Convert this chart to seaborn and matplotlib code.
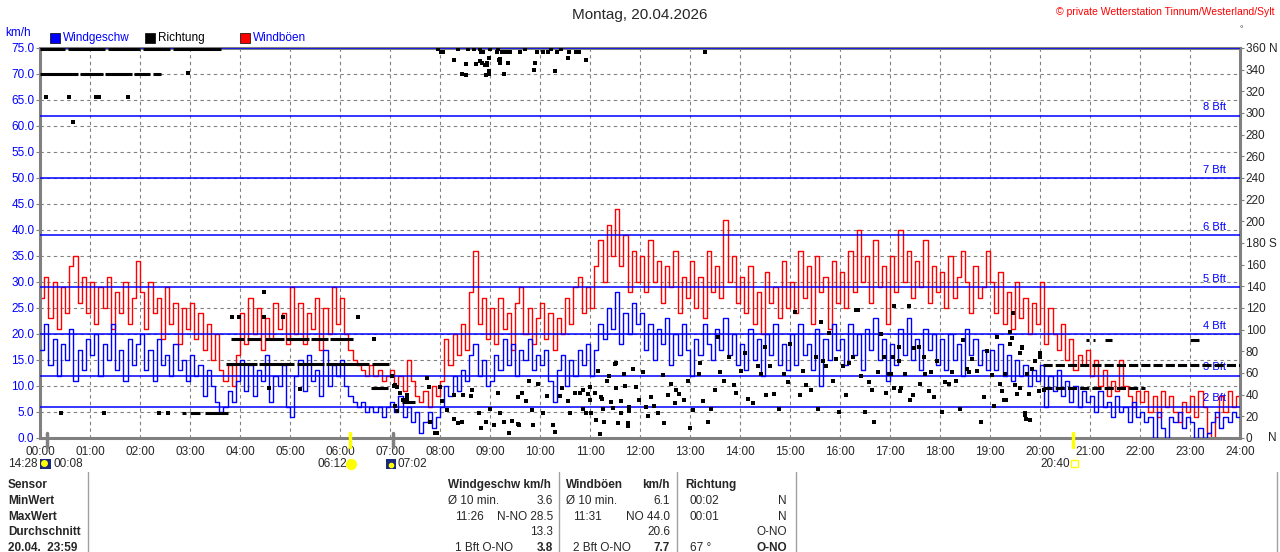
import matplotlib
matplotlib.use("Agg")
import matplotlib.pyplot as plt
from matplotlib.patches import Rectangle
import numpy as np
import pandas as pd
import seaborn as sns

# wind gusts (km/h), 5-minute samples, one row per hour
GUST = [
    27, 31, 23, 30, 21, 29, 24, 33, 35, 26, 31, 24,
    30, 22, 29, 25, 31, 21, 28, 24, 30, 22, 27, 34,
    28, 21, 30, 24, 27, 19, 29, 22, 26, 18, 25, 21,
    26, 19, 24, 17, 22, 15, 20, 13, 11, 14, 10, 16,
    24, 18, 27, 20, 25, 17, 23, 19, 26, 21, 24, 18,
    29, 20, 26, 18, 24, 21, 27, 17, 25, 20, 29, 22,
    27, 20, 17, 15, 14, 13, 12, 14, 12, 13, 11, 12,
    13, 10, 12, 9, 15, 11, 8, 7, 9, 6, 10, 8,
    11, 19, 14, 20, 16, 22, 17, 28, 36, 22, 27, 19,
    25, 18, 27, 21, 24, 17, 26, 29, 20, 25, 18, 23,
    26, 19, 24, 17, 23, 20, 27, 22, 29, 31, 24, 29,
    25, 33, 38, 30, 41, 35, 44, 33, 39, 28, 36, 30,
    35, 28, 38, 30, 34, 26, 33, 29, 36, 24, 31, 27,
    34, 25, 31, 23, 36, 28, 33, 27, 42, 30, 35, 26,
    31, 24, 33, 22, 28, 20, 32, 26, 29, 23, 34, 25,
    30, 24, 36, 27, 33, 22, 35, 28, 31, 21, 34, 26,
    32, 25, 36, 28, 40, 30, 35, 26, 38, 29, 33, 22,
    35, 28, 40, 30, 36, 27, 34, 29, 38, 26, 33, 28,
    32, 25, 35, 27, 31, 36, 30, 24, 33, 27, 29, 36,
    30, 24, 32, 22, 28, 21, 30, 23, 27, 20, 26, 22,
    30, 18, 25, 20, 17, 22, 15, 19, 13, 16, 14, 17,
    12, 15, 10, 13, 8, 11, 9, 15, 10, 8, 6, 9,
    7, 9, 5, 8, 4, 9, 6, 8, 5, 3, 7, 5,
    8, 4, 9, 6, 1, 0, 4, 8, 5, 9, 6, 8,
    6,
]

# mean wind speed (km/h), same sampling
SPEED = [
    17, 22, 14, 19, 12, 18, 15, 21, 11, 17, 13, 19,
    16, 20, 12, 18, 15, 22, 13, 17, 11, 19, 14, 18,
    20, 13, 17, 11, 19, 14, 16, 12, 18, 13, 15, 11,
    16, 12, 14, 8, 13, 10, 7, 5, 6, 9, 7, 11,
    15, 9, 14, 8, 13, 11, 16, 7, 12, 10, 14, 6,
    4, 12, 15, 9, 16, 11, 13, 8, 17, 10, 14, 12,
    15, 10, 8, 7, 6, 7, 5, 6, 5, 6, 4, 6,
    7, 5, 8, 4, 6, 3, 5, 1, 3, 5, 2, 4,
    6, 10, 8, 12, 9, 13, 11, 16, 18, 12, 15, 10,
    11, 16, 13, 19, 14, 18, 12, 17, 15, 19, 13, 16,
    14, 17, 11, 7, 13, 16, 10, 15, 12, 17, 14, 18,
    12, 17, 22, 19, 25, 21, 28, 18, 24, 20, 26, 22,
    24, 17, 22, 15, 21, 18, 23, 14, 20, 16, 22, 17,
    12, 19, 16, 22, 18, 15, 21, 17, 23, 16, 20, 14,
    18, 13, 21, 15, 19, 12, 20, 16, 22, 14, 18, 13,
    20, 14, 22, 16, 18, 13, 21, 10, 19, 15, 22, 17,
    19, 14, 22, 16, 20, 13, 21, 17, 23, 15, 19, 11,
    18, 14, 21, 16, 23, 15, 19, 13, 21, 17, 20, 14,
    19, 13, 20, 15, 18, 12, 21, 16, 19, 14, 17, 13,
    17, 13, 18, 12, 16, 11, 15, 12, 14, 10, 13, 11,
    14, 6, 12, 9, 13, 8, 11, 7, 10, 6, 9, 7,
    8, 5, 9, 6, 7, 4, 8, 5, 6, 3, 7, 4,
    5, 3, 4, 0, 5, 2, 0, 4, 3, 5, 2, 4,
    3, 0, 2, 0, 1, 3, 5, 2, 4, 3, 5, 4,
    4,
]

# single direction readings (hour of day, degrees)
DIR_HOURS = [
    0.12, 0.58, 1.12, 1.18, 1.75, 0.65, 2.95, 0.42, 1.27, 2.38, 2.55,
    3.83, 3.98, 4.47, 4.85, 4.48, 4.58, 5.2, 6.35, 6.68,
    7.04, 7.07, 7.10, 7.14, 7.20, 7.34, 7.34, 7.26, 7.10, 7.14, 7.74, 7.77, 7.79, 7.90, 7.93,
    8.04, 8.00, 8.13, 8.28, 8.28, 8.36, 8.43, 8.46, 8.63, 8.61, 8.79, 8.82, 8.92,
    9.00, 9.08, 9.16, 9.19, 9.28, 9.38, 9.44, 9.55, 9.57, 9.55, 9.64, 9.72, 9.77, 9.83, 9.86, 9.96,
    10.06, 10.14, 10.26, 10.29, 10.39, 10.44, 10.56, 10.59, 10.69, 10.79, 10.85, 10.86, 10.92, 10.95, 10.99,
    11.00, 11.02, 11.10, 11.11, 11.16, 11.20, 11.22, 11.24, 11.26, 11.27, 11.33, 11.37, 11.42, 11.45,
    11.49, 11.52, 11.52, 11.55, 11.55, 11.62, 11.62, 11.68, 11.70, 11.75, 11.75, 11.78, 11.78, 11.85, 11.92, 11.98,
    12.05, 12.12, 12.15, 12.22, 12.28, 12.35, 12.45, 12.48, 12.55, 12.62, 12.70, 12.72, 12.78, 12.88, 12.95,
    13.00, 13.05, 13.17, 13.20, 13.26, 13.36, 13.42, 13.50, 13.55, 13.60, 13.68, 13.78, 13.88, 13.92,
    14.01, 14.10, 14.15, 14.26, 14.36, 14.42, 14.50, 14.52, 14.60, 14.68, 14.78, 14.88, 14.95,
    15.00, 15.10, 15.20, 15.26, 15.32, 15.42, 15.52, 15.55, 15.62, 15.65, 15.72, 15.78, 15.85, 15.92, 15.98,
    16.05, 16.12, 16.18, 16.25, 16.32, 16.35, 16.42, 16.50, 16.58, 16.65, 16.68, 16.75, 16.82, 16.88, 16.92,
    16.99, 17.02, 17.05, 17.08, 17.08, 17.17, 17.17, 17.20, 17.22, 17.30, 17.37, 17.40, 17.45, 17.47,
    17.57, 17.60, 17.67, 17.70, 17.77, 17.83, 17.87, 17.93, 18.03, 18.10, 18.17, 18.23, 18.33, 18.40,
    18.46, 18.53, 18.57, 18.63, 18.73, 18.83, 18.87, 18.93, 19.03, 19.07, 19.13, 19.20, 19.23, 19.28,
    19.30, 19.33, 19.39, 19.40, 19.43, 19.45, 19.50, 19.53, 19.59, 19.60, 19.63, 19.65, 19.69, 19.70,
    19.72, 19.73, 19.78, 19.80, 19.83, 19.90, 19.97, 19.99, 20.00, 20.08,
    # near north
    8.02, 8.05, 8.28, 8.52, 8.43, 8.53, 8.72, 8.80, 8.82, 8.87, 8.83, 8.90, 8.93, 8.97, 8.95, 8.98,
    8.92, 8.97, 9.13, 9.23, 9.32, 9.40, 9.60, 9.18, 9.20, 9.20, 9.37, 9.28, 9.93, 10.06, 10.16,
    10.34, 10.58, 10.72, 10.78, 9.90, 9.88, 10.30, 10.55, 10.92, 13.30,
    7.95, 8.35, 8.55, 8.68, 8.80, 9.00, 9.15, 9.70, 10.22, 10.42,
]
DIR_DEG = [
    315, 315, 315, 315, 315, 292, 337, 23, 23, 23, 23,
    112, 112, 112, 112, 135, 46, 45, 112, 91,
    57, 48, 49, 47, 42, 40, 36, 35, 30, 25, 55, 47, 15, 5, 5,
    34, 47, 26, 40, 18, 14, 15, 40, 44, 39, 23, 9, 15,
    27, 12, 42, 23, 15, 5, 16, 13, 12, 38, 42, 34, 53, 26, 12, 50,
    23, 39, 12, 6, 39, 46, 34, 23, 42, 42, 44, 27, 23, 41, 47,
    35, 23, 42, 17, 62, 4, 38, 36, 27, 15, 53, 57, 33, 28,
    68, 69, 46, 14, 14, 34, 23, 59, 48, 11, 14, 29, 25, 64, 47, 35,
    61, 29, 20, 38, 30, 23, 58, 14, 40, 50, 32, 44, 41, 35, 53,
    9, 26, 59, 69, 34, 15, 27, 44, 93, 61, 53, 75, 49, 42,
    62, 78, 36, 32, 66, 59, 84, 40, 66, 41, 27, 59, 52,
    87, 116, 40, 62, 49, 44, 75, 27, 107, 71, 66, 97, 53, 73, 24,
    66, 40, 69, 75, 118, 118, 57, 24, 52, 44, 15, 61, 96, 75, 42,
    59, 59, 75, 46, 122, 71, 84, 43, 46, 59, 122, 35, 40, 83,
    84, 50, 75, 59, 43, 61, 38, 71, 24, 52, 50, 61, 53, 27,
    90, 64, 61, 73, 62, 15, 38, 80, 58, 30, 93, 50, 43, 35,
    59, 35, 98, 87, 92, 115, 49, 41, 46, 78, 84, 83, 21, 23,
    18, 59, 41, 17, 64, 71, 43, 78, 75, 44,
    356, 356, 349, 345, 336, 335, 345, 348, 356, 356, 346, 344, 344, 351, 346, 339,
    335, 336, 356, 356, 356, 356, 356, 349, 350, 346, 346, 336, 356, 356, 356,
    356, 356, 356, 356, 346, 340, 339, 351, 349, 356,
    359, 359, 359, 359, 359, 359, 359, 359, 359, 359,
]

# runs of identical direction readings: start hour, end hour, degrees
RUN_START = [0.00, 0.80, 1.30, 1.87, 2.25,
             0.00, 0.55, 1.35, 2.05, 2.65,
             2.83, 3.00, 3.30,
             3.82, 4.13, 4.50, 4.92, 5.42, 5.80,
             3.72, 4.38, 5.13, 5.72, 6.63,
             6.62, 7.23,
             20.92, 21.05, 21.30, 23.00]
RUN_END = [0.75, 1.25, 1.83, 2.20, 2.42,
           0.50, 1.30, 2.00, 2.60, 3.62,
           2.92, 3.20, 3.75,
           4.08, 4.42, 4.87, 5.37, 5.75, 6.25,
           4.33, 5.08, 5.67, 6.58, 6.97,
           6.95, 7.50,
           20.98, 21.10, 21.43, 23.18]
RUN_DEG = [336, 336, 336, 336, 336,
           359, 359, 359, 359, 359,
           23, 23, 23,
           91, 91, 91, 91, 91, 91,
           68, 68, 68, 68, 68,
           46, 33,
           90, 90, 90, 90]
# dashed runs in the evening
DASH_START = [20.05, 20.05]
DASH_END = [24.0, 22.1]
DASH_DEG = [67, 46]

BFT_KMH = [6, 12, 20, 29, 39, 50, 62, 75]
BFT_LABELS = ["2 Bft", "3 Bft", "4 Bft", "5 Bft", "6 Bft", "7 Bft", "8 Bft", ""]

hours = np.arange(len(GUST)) * 5 / 60
df = pd.DataFrame({"hour": hours, "gust": GUST, "speed": SPEED})

sns.set_style("white")
plt.rcParams["font.family"] = ["Liberation Sans", "DejaVu Sans"]

W, H = 1280, 552
fig = plt.figure(figsize=(W / 100, H / 100), dpi=100)
ax = fig.add_axes([40 / W, 1 - 438 / H, 1200 / W, 390 / H])
ax.set_xlim(0, 24)
ax.set_ylim(0, 75)

ax.set_xticks(range(25))
ax.set_xticklabels([f"{h:02d}:00" for h in range(25)], fontsize=8.5)
ax.set_yticks(np.arange(0, 75.1, 5))
ax.set_yticklabels([f"{v:.1f}" for v in np.arange(0, 75.1, 5)], fontsize=8.5, color="#0000ff")
ax.tick_params(axis="x", length=0, pad=6)
ax.tick_params(axis="y", length=3, color="#808080", pad=1)
ax.grid(True, color="#808080", linestyle=(0, (3, 3)), linewidth=0.8)
ax.set_axisbelow(True)
for sp in ax.spines.values():
    sp.set_color("#808080")
    sp.set_linewidth(2.2)

sns.lineplot(data=df, x="hour", y="gust", ax=ax, color="#ff0000", linewidth=1,
             drawstyle="steps-post", estimator=None, zorder=2)
for v in BFT_KMH:
    ax.axhline(v, color="#0000ff", linewidth=1.1, zorder=3)
sns.lineplot(data=df, x="hour", y="speed", ax=ax, color="#0000ff", linewidth=1,
             drawstyle="steps-post", estimator=None, zorder=4)
for v, lab in zip(BFT_KMH, BFT_LABELS):
    if lab:
        ax.text(23.72, v + 1.6, lab, color="#0000ff", fontsize=8, ha="right", va="center", zorder=5)
ax.set_xlabel("")
ax.set_ylabel("")

ax2 = ax.twinx()
ax2.set_ylim(0, 360)
ax2.set_yticks(range(0, 361, 20))
rlabels = [str(d) for d in range(0, 361, 20)]
rlabels[9] = "180 S"
rlabels[18] = "360 N"
ax2.set_yticklabels(rlabels, fontsize=8.5)
ax2.tick_params(axis="y", length=3, color="#808080", pad=1)
ax2.grid(False)
for sp in ax2.spines.values():
    sp.set_visible(False)
sns.scatterplot(x=DIR_HOURS, y=DIR_DEG, ax=ax2, color="black", marker="s", s=5,
                linewidth=0, zorder=6)
ax2.hlines(RUN_DEG, RUN_START, RUN_END, color="black", linewidth=2.2, zorder=6)
ax2.hlines(DASH_DEG, DASH_START, DASH_END, color="black", linewidth=2.2,
           linestyles=(0, (3, 1)), zorder=6)
fig.text(1268 / W, 1 - 438 / H, "N", fontsize=8.5, va="center")

# sun / moon marks on the time axis
for h, col in [(6.2, "#ffff00"), (20.667, "#ffff00"), (0.133, "#808080"), (7.05, "#808080")]:
    ax.plot([h, h], [1.0, -1.7], color=col, linewidth=2.5, clip_on=False, zorder=7)


def ftext(x, y, s, **kw):
    fig.text(x / W, 1 - y / H, s, va="center", **kw)


def fbox(x, y, w, h, **kw):
    fig.patches.append(Rectangle((x / W, 1 - (y + h) / H), w / W, h / H,
                                 transform=fig.transFigure, **kw))


def fdot(x, y, size, color):
    fig.add_artist(plt.Line2D([x / W], [1 - y / H], marker="o", markersize=size,
                              color=color, linestyle="none", transform=fig.transFigure))


# header
ftext(640, 15, "Montag, 20.04.2026", fontsize=11, ha="center")
ftext(1275, 12, "© private Wetterstation Tinnum/Westerland/Sylt", fontsize=7.5,
      ha="right", color="#ff0000")
ftext(1240, 30, "°", fontsize=6)
ftext(5, 33, "km/h", fontsize=8.5, color="#0000ff")
for x0, col, label, tcol in [(50, "#0000ff", "Windgeschw", "#0000ff"),
                             (145, "black", "Richtung", "black"),
                             (240, "#ff0000", "Windböen", "#0000ff")]:
    fbox(x0, 33, 10, 10, facecolor=col, edgecolor="black", linewidth=0.5)
    ftext(x0 + 13, 38, label, fontsize=8.5, color=tcol)

# sun and moon times
ftext(8, 464, "14:28", fontsize=8.5)
fbox(40, 459, 11, 10, facecolor="#1a2a7a", edgecolor="none")
fdot(44, 463, 4, "#ffff00")
ftext(53, 464, "00:08", fontsize=8.5)
ftext(317, 464, "06:12", fontsize=8.5)
fdot(351, 464, 7, "#ffff00")
fbox(386, 459, 10, 10, facecolor="#1a2a7a", edgecolor="none")
fdot(391, 465, 3, "#ffff00")
ftext(397, 464, "07:02", fontsize=8.5)
ftext(1040, 464, "20:40", fontsize=8.5)
fbox(1071, 460, 7, 7, facecolor="none", edgecolor="#ffff00", linewidth=1)

# summary table
for x in (88, 559, 677, 796, 1277):
    fig.add_artist(plt.Line2D([x / W, x / W], [1 - 472 / H, 0], transform=fig.transFigure,
                              color="#a0a0a0", linewidth=1))
rows_y = [485, 501, 517, 532, 548]
for y, lab in zip(rows_y, ["Sensor", "MinWert", "MaxWert", "Durchschnitt", "20.04.  23:59"]):
    ftext(8, y, lab, fontsize=8.5, fontweight="bold")

ftext(448, 485, "Windgeschw km/h", fontsize=8.5, fontweight="bold")
ftext(448, 501, "Ø 10 min.", fontsize=8.5)
ftext(553, 501, "3.6", fontsize=8.5, ha="right")
ftext(455, 517, "11:26", fontsize=8.5)
ftext(553, 517, "N-NO 28.5", fontsize=8.5, ha="right")
ftext(553, 532, "13.3", fontsize=8.5, ha="right")
ftext(455, 548, "1 Bft O-NO", fontsize=8.5)
ftext(553, 548, "3.8", fontsize=8.5, ha="right", fontweight="bold")

ftext(566, 485, "Windböen", fontsize=8.5, fontweight="bold")
ftext(670, 485, "km/h", fontsize=8.5, ha="right", fontweight="bold")
ftext(566, 501, "Ø 10 min.", fontsize=8.5)
ftext(670, 501, "6.1", fontsize=8.5, ha="right")
ftext(573, 517, "11:31", fontsize=8.5)
ftext(670, 517, "NO 44.0", fontsize=8.5, ha="right")
ftext(670, 532, "20.6", fontsize=8.5, ha="right")
ftext(573, 548, "2 Bft O-NO", fontsize=8.5)
ftext(670, 548, "7.7", fontsize=8.5, ha="right", fontweight="bold")

ftext(685, 485, "Richtung", fontsize=8.5, fontweight="bold")
ftext(690, 501, "00:02", fontsize=8.5)
ftext(787, 501, "N", fontsize=8.5, ha="right")
ftext(690, 517, "00:01", fontsize=8.5)
ftext(787, 517, "N", fontsize=8.5, ha="right")
ftext(787, 532, "O-NO", fontsize=8.5, ha="right")
ftext(690, 548, "67 °", fontsize=8.5)
ftext(787, 548, "O-NO", fontsize=8.5, ha="right", fontweight="bold")

fig.savefig("out.png", dpi=100)
